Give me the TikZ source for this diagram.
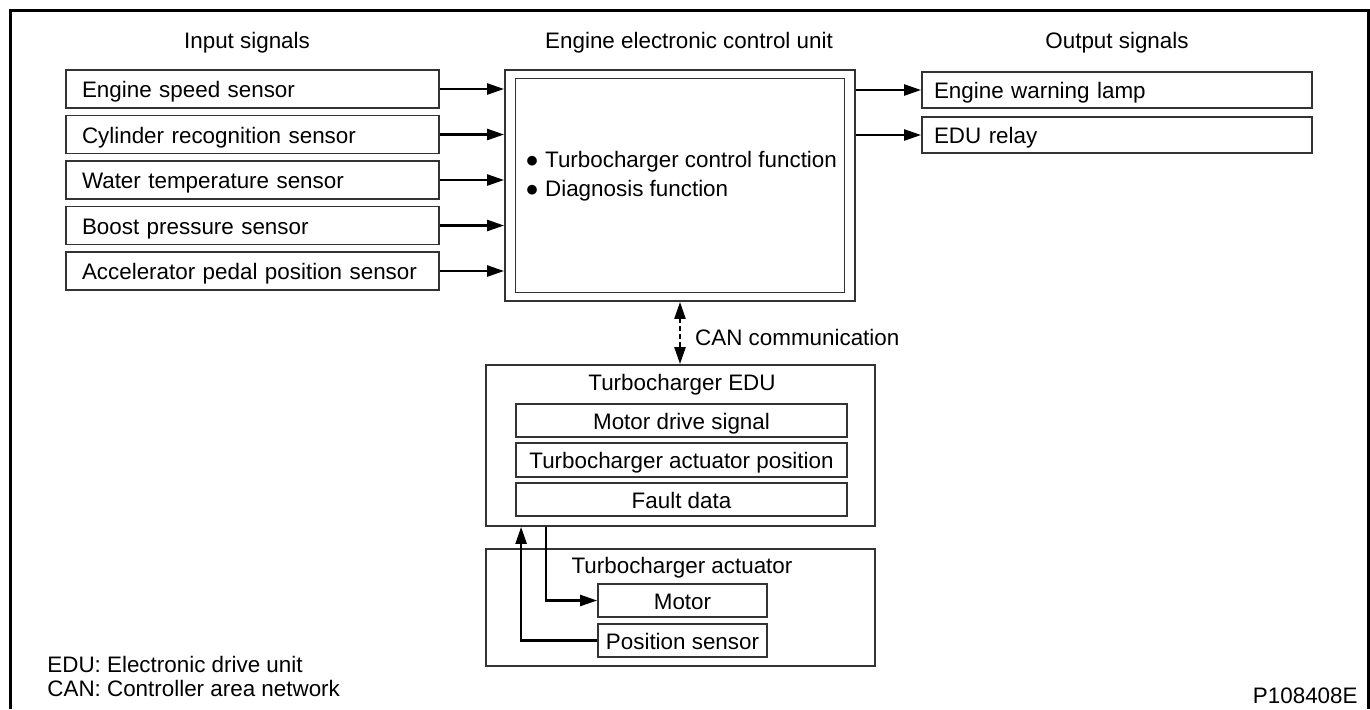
\documentclass[tikz,border=0pt]{standalone}
\usepackage{fontspec}
\setmainfont{Liberation Sans}
\usepackage{tikz}
\usetikzlibrary{positioning,arrows.meta}

\begin{document}
\begin{tikzpicture}[
        x=0.5pt, y=-0.5pt,
        font=\fontsize{11.2}{13}\selectfont,
        box/.style={draw=black!80, line width=0.9pt, inner sep=0pt, text height=11pt, text depth=2.1pt},
        sensor/.style={box, text width=170.5pt, inner xsep=8pt, minimum height=19pt, align=left},
        output/.style={box, text width=183pt, inner xsep=6pt, minimum height=18pt, align=left},
        item/.style={box, minimum width=165.5pt, minimum height=16.75pt},
        part/.style={box, minimum width=84.5pt, minimum height=16.5pt},
        heading/.style={inner sep=0pt},
        arr/.style={-{Triangle[length=8.5pt,width=5.5pt]}, line width=1.2pt},
        can/.style={{Triangle[length=8.5pt,width=5.5pt]}-{Triangle[length=8.5pt,width=5.5pt]}, line width=1.2pt, dash pattern=on 2.5pt off 1.5pt},
    ]

    \useasboundingbox (0,0) rectangle (1370,709);
    \draw[line width=1.5pt] (10,709) -- (10,10) -- (1368,10) -- (1368,709);

    % === Input signals ===
    \node[heading] (intitle) at (247,43) {Input signals};
    \node[sensor] (speed) at (252.5,89) {Engine speed sensor};
    \node[sensor, below=2.85pt of speed] (cyl) {Cylinder recognition sensor};
    \node[sensor, below=2.85pt of cyl] (water) {Water temperature sensor};
    \node[sensor, below=2.85pt of water] (boost) {Boost pressure sensor};
    \node[sensor, below=2.85pt of boost] (accel) {Accelerator pedal position sensor};

    % === Engine ECU ===
    \node[heading] (ecutitle) at (689,43) {Engine electronic control unit};
    \node[box, minimum width=175pt, minimum height=115.5pt] (ecu) at (680,185.5) {};
    \node[box, minimum width=164.5pt, minimum height=107pt] (ecuin) at (680,185.5) {};
    \node[heading, anchor=west, align=left, font=\fontsize{11.2}{14.5}\selectfont] (ecufunc) at (525,176.5) {%
        ● Turbocharger control function\\
        ● Diagnosis function};

    % === Output signals ===
    \node[heading] (outtitle) at (1117,43) {Output signals};
    \node[output] (lamp) at (1117,90) {Engine warning lamp};
    \node[output, below=3.6pt of lamp] (relay) {EDU relay};

    \foreach \s in {speed,cyl,water,boost,accel}
        \draw[arr] (\s.east) -- (\s.east -| ecu.west);
    \foreach \o in {lamp,relay}
        \draw[arr] (ecu.east |- \o) -- (\o.west);

    % === Turbocharger EDU ===
    \node[box, minimum width=194.5pt, minimum height=80.5pt] (edu) at (680.5,445.5) {};
    \node[heading] (edutitle) at (682,385) {Turbocharger EDU};
    \node[item] (drive) at (681.5,420.5) {Motor drive signal};
    \node[item, below=2.1pt of drive] (actpos) {Turbocharger actuator position};
    \node[item, below=2.1pt of actpos] (fault) {Fault data};

    \draw[can] (ecu.south) -- node[heading, midway, right=7pt, yshift=-2pt] (canlbl) {CAN communication} (ecu.south |- edu.north);

    % === Turbocharger actuator ===
    \node[box, minimum width=194.5pt, minimum height=58.5pt] (act) at (680.5,607.5) {};
    \node[heading] (acttitle) at (682,568) {Turbocharger actuator};
    \node[part] (motor) at (682.5,600.5) {Motor};
    \node[part, below=2.6pt of motor] (possens) {Position sensor};

    \draw[arr] ([xshift=30.5pt]edu.south west) |- (motor.west);
    \draw[arr] (possens.west) -| ([xshift=18pt]edu.south west);

    % === Notes ===
    \node[heading, anchor=west] (edunote) at (47,664) {EDU: Electronic drive unit};
    \node[heading, anchor=west] (cannote) at (47,688) {CAN: Controller area network};
    \node[heading, anchor=east] (figid) at (1358,696) {P108408E};

\end{tikzpicture}
\end{document}
